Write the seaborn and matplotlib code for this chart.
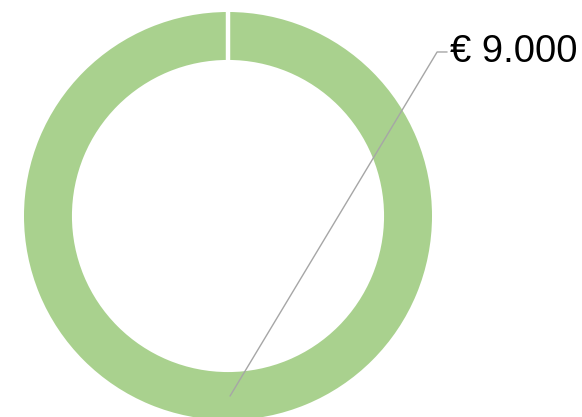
import numpy as np
import seaborn as sns
import matplotlib.pyplot as plt

# data
categories = ['Totaal']
values = [9000]
colors = ['#A9D18E']

sns.set_theme(style='white')
plt.rcParams['font.family'] = ['Liberation Sans', 'DejaVu Sans']

fig = plt.figure(figsize=(5.82, 4.17), dpi=100)
# square axes box so the ring keeps its shape: centre ~ (228, 216) px, radius ~204 px
ax = fig.add_axes([24 / 582, (417 - 216 - 204) / 417, 408 / 582, 408 / 417])

ring = 0.235
wedges, _ = ax.pie(values, labels=None, colors=colors, startangle=90,
                   counterclock=False, radius=1,
                   wedgeprops=dict(width=ring, linewidth=0))
ax.set_xlim(-1, 1)
ax.set_ylim(-1, 1)
ax.axis('off')

# white separator where the slice starts/ends
for w in wedges:
    a = np.deg2rad(w.theta2)
    ax.plot([(1 - ring - 0.02) * np.cos(a), 1.02 * np.cos(a)],
            [(1 - ring - 0.02) * np.sin(a), 1.02 * np.sin(a)],
            color='white', lw=3.2, solid_capstyle='butt')

# data label with leader line, anchored at the middle of the slice
for w, v in zip(wedges, values):
    mid = np.deg2rad((w.theta1 + w.theta2) / 2)
    r = 1 - ring / 2
    x0, y0 = r * np.cos(mid) + 0.01, r * np.sin(mid)
    ax.plot([x0, 1.025, 1.074], [y0, 0.804, 0.804], color='#A6A6A6',
            lw=1.0, clip_on=False)
    label = '€ ' + f'{v:,.0f}'.replace(',', '.')
    ax.text(1.088, 0.804, label, ha='left', va='center', fontsize=27.5,
            color='black', clip_on=False)

fig.savefig('out.png', dpi=100)
